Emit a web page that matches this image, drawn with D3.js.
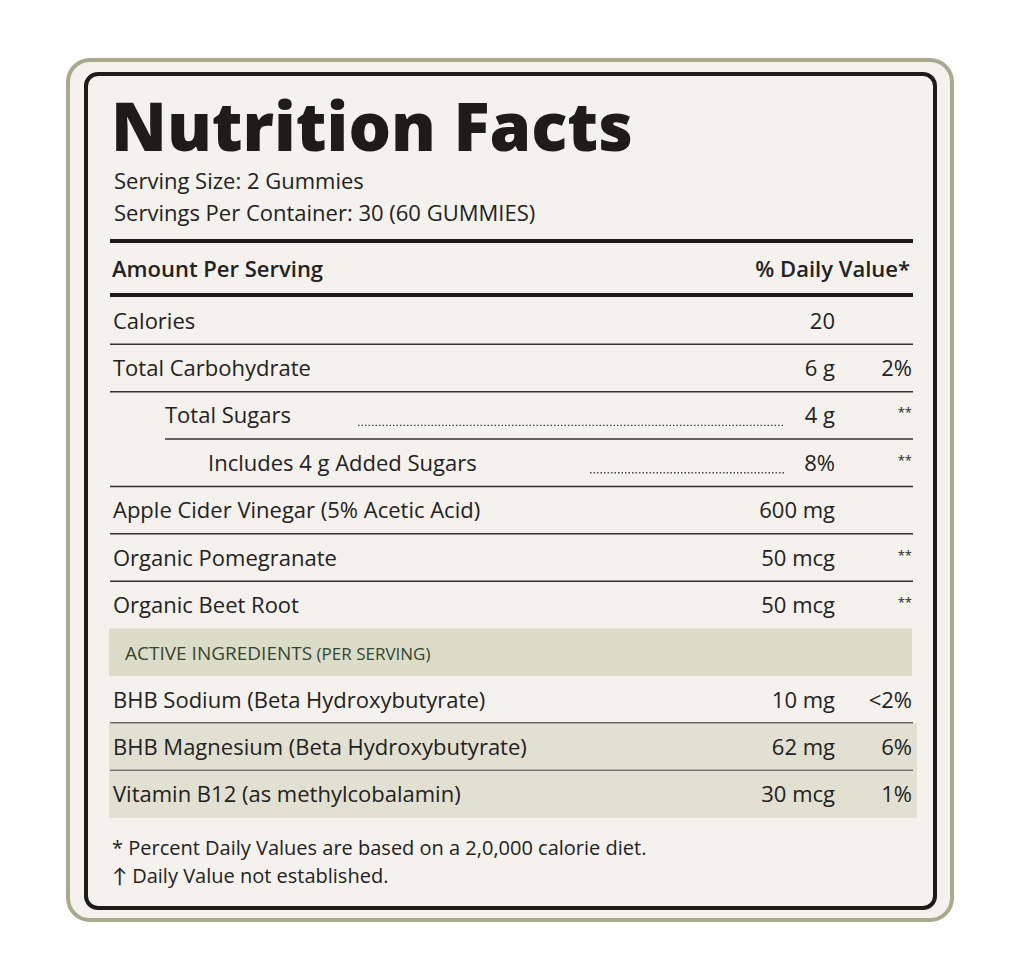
<!DOCTYPE html>
<html><head><meta charset="utf-8">
<script src="https://cdn.jsdelivr.net/npm/d3@7"></script>
<style>body{margin:0;background:#fff;font-family:"Open Sans",Lato,sans-serif}</style>
</head><body><svg id="c" width="1023" height="979"></svg>
<script>
const rowNames = ["Calories","Total Carbohydrate","Total Sugars","Includes 4 g Added Sugars","Apple Cider Vinegar (5% Acetic Acid)","Organic Pomegranate","Organic Beet Root","ACTIVE INGREDIENTS","BHB Sodium (Beta Hydroxybutyrate)","BHB Magnesium (Beta Hydroxybutyrate)","Vitamin B12 (as methylcobalamin)"];
const rowAmounts = ["20","6 g","4 g","8%","600 mg","50 mcg","50 mcg","","10 mg","62 mg","30 mcg"];
const rowDV = ["","2%","**","**","","**","**","","<2%","6%","1%"];
const rowIndent = [0,0,1,2,0,0,0,0,0,0,0];
const rowShade = [0,0,0,0,0,0,0,1,0,2,2];
const footnotes = ["* Percent Daily Values are based on a 2,0,000 calorie diet.","↑ Daily Value not established."];

const svg = d3.select("#c");
svg.append("rect").attr("x",68).attr("y",60).attr("width",884).attr("height",860).attr("rx",22)
  .attr("fill","#f5f1ec").attr("stroke","#a9a98d").attr("stroke-width",4);
svg.append("rect").attr("x",86).attr("y",74).attr("width",849).attr("height",834).attr("rx",12)
  .attr("fill","#f5f1ec").attr("stroke","#1e1b19").attr("stroke-width",4);
const ink="#222";
svg.append("text").attr("x",111).attr("y",151).attr("font-size",67).attr("font-weight",800).attr("fill","#1e1b19").text("Nutrition Facts");
svg.append("text").attr("x",114).attr("y",189).attr("font-size",22).attr("fill",ink).text("Serving Size: 2 Gummies");
svg.append("text").attr("x",114).attr("y",221).attr("font-size",22).attr("fill",ink).text("Servings Per Container: 30 (60 GUMMIES)");
svg.append("line").attr("x1",110).attr("x2",913).attr("y1",241).attr("y2",241).attr("stroke","#1e1b19").attr("stroke-width",4);
svg.append("text").attr("x",112).attr("y",277).attr("font-size",22).attr("font-weight",600).attr("fill",ink).text("Amount Per Serving");
svg.append("text").attr("x",910).attr("y",277).attr("text-anchor","end").attr("font-size",22).attr("font-weight",600).attr("fill",ink).text("% Daily Value*");
svg.append("line").attr("x1",110).attr("x2",913).attr("y1",295).attr("y2",295).attr("stroke","#1e1b19").attr("stroke-width",4);

const y = d3.scaleBand().domain(d3.range(rowNames.length)).range([297,818]);
const xInd = d3.scaleOrdinal().domain([0,1,2]).range([113,165,208]);
const shadeCol = ["none","#dcdcca","#e2e0d1"];
const idx = d => rowNames.indexOf(d);
const cy = d => y(idx(d))+y.bandwidth()/2+8;
const g = svg.selectAll("g.row").data(rowNames).join("g").attr("class","row");
g.append("rect").attr("x",109).attr("width",d=>idx(d)===7?803:808).attr("y",d=>y(idx(d))).attr("height",y.bandwidth())
  .attr("fill",d=>shadeCol[rowShade[idx(d)]]);
g.append("text").attr("x",d=>idx(d)===7?125:xInd(rowIndent[idx(d)])).attr("y",cy)
  .attr("font-size",d=>idx(d)===7?19:22).attr("fill",d=>idx(d)===7?"#35462a":ink)
  .each(function(d){ const t=d3.select(this); t.append("tspan").text(d);
    if(idx(d)===7) t.append("tspan").attr("font-size",17).text(" (PER SERVING)"); });
g.append("text").attr("x",835).attr("y",cy).attr("text-anchor","end").attr("font-size",22).attr("fill",ink).text(d=>rowAmounts[idx(d)]);
g.append("text").attr("x",912).attr("y",cy).attr("text-anchor","end")
  .attr("font-size",d=>rowDV[idx(d)]==="**"?13:22).attr("fill",ink).attr("dy",d=>rowDV[idx(d)]==="**"?-6:0).text(d=>rowDV[idx(d)]);
const leaderStart = {2:358,3:590};
g.filter(d=>leaderStart[idx(d)]).append("line").attr("x1",d=>leaderStart[idx(d)]).attr("x2",785)
  .attr("y1",d=>cy(d)+2).attr("y2",d=>cy(d)+2)
  .attr("stroke","#444").attr("stroke-width",1.3).attr("stroke-dasharray","1.5,2");
g.filter(d=>{const i=idx(d);return i<rowNames.length-1 && i!==6 && i!==7;}).append("line")
  .attr("x1",d=>idx(d)===2?165:110).attr("x2",913)
  .attr("y1",d=>y(idx(d))+y.bandwidth()).attr("y2",d=>y(idx(d))+y.bandwidth())
  .attr("stroke","#333").attr("stroke-width",d=>idx(d)>=8?2:1.5);

svg.selectAll("text.fn").data(footnotes).join("text").attr("class","fn").attr("x",112)
  .attr("y",(d,i)=>855+i*28).attr("font-size",20).attr("fill",ink).text(d=>d);
</script></body></html>
